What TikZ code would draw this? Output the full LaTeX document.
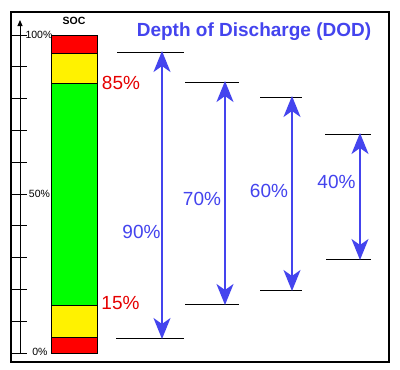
\documentclass[tikz,border=0pt]{standalone}
\usepackage{fontspec}
\setmainfont{Liberation Sans}
\usetikzlibrary{arrows.meta}
\definecolor{dodblue}{RGB}{68,68,238}
\definecolor{lblred}{RGB}{230,0,0}
\tikzset{
  seg/.style={draw=black, line width=1pt},
  lvl/.style={draw=black, line width=0.9pt},
  dod/.style={draw=dodblue, line width=2pt, {Stealth[length=21pt,width=17pt,inset=6pt]}-{Stealth[length=21pt,width=17pt,inset=6pt]}, shorten <=-1pt, shorten >=-1pt},
  pct/.style={text=dodblue, font=\fontsize{19}{19}\selectfont, inner sep=0pt},
  rpct/.style={text=lblred, font=\fontsize{19}{19}\selectfont, inner sep=0pt},
  tick/.style={draw=black, line width=0.9pt},
  ticklbl/.style={font=\fontsize{10.5}{10.5}\selectfont, inner sep=0pt}
}
\begin{document}
\begin{tikzpicture}[x=1pt,y=-1pt]
\useasboundingbox[fill=white] (0,0) rectangle (400,370);
% frame
\draw[line width=1.4pt] (11,12) rectangle (389,362);
% axis
\coordinate (ax0) at (20,353);
\coordinate (ax1) at (20,20);
\draw[line width=0.9pt, -{Triangle[length=6pt,width=5pt]}] (ax0) -- (ax1);
\foreach \i in {0,...,10} {
  \draw[tick] (11,{353-31.8*\i}) -- (27,{353-31.8*\i});
}
\node[ticklbl] (l100) at (39,34.5) {100\%};
\node[ticklbl] (l50) at (39.5,194) {50\%};
\node[ticklbl] (l0) at (40,352) {0\%};
\node[font=\bfseries\fontsize{10.5}{10.5}\selectfont, inner sep=0pt] (soc) at (74,21) {SOC};
% bar
\fill[red] (51,35) rectangle (97,53);
\fill[yellow] (51,53) rectangle (97,83);
\fill[green] (51,83) rectangle (97,305);
\fill[yellow] (51,305) rectangle (97,337);
\fill[red] (51,337) rectangle (97,353);
\draw[seg] (51,53) -- (97,53) (51,83) -- (97,83) (51,305) -- (97,305) (51,337) -- (97,337);
\draw[seg] (51,35) rectangle (97,353);
\node[rpct] (p85) at (121,83) {85\%};
\node[rpct] (p15) at (120.5,303) {15\%};
% title
\node[text=dodblue, font=\bfseries\fontsize{19}{19}\selectfont, inner sep=0pt] (title) at (254,32) {Depth of Discharge (DOD)};
% level lines
\draw[lvl] (117,52) -- (184,52);
\draw[lvl] (116,338) -- (184,338);
\draw[lvl] (185,82) -- (239,82);
\draw[lvl] (185,304) -- (239,304);
\draw[lvl] (260,97) -- (302,97);
\draw[lvl] (260,290) -- (302,290);
\draw[lvl] (325,134) -- (371,134);
\draw[lvl] (326,259) -- (371,259);
% arrows
\coordinate (t1) at (162,52); \coordinate (b1) at (162,338);
\coordinate (t2) at (225,82); \coordinate (b2) at (225,304);
\coordinate (t3) at (292,97); \coordinate (b3) at (292,290);
\coordinate (t4) at (360,134); \coordinate (b4) at (360,259);
\draw[dod] (b1) -- (t1);
\draw[dod] (b2) -- (t2);
\draw[dod] (b3) -- (t3);
\draw[dod] (b4) -- (t4);
\node[pct] (d90) at (141.5,232) {90\%};
\node[pct] (d70) at (202,199) {70\%};
\node[pct] (d60) at (269,191) {60\%};
\node[pct] (d40) at (336.5,182) {40\%};
\end{tikzpicture}
\end{document}
